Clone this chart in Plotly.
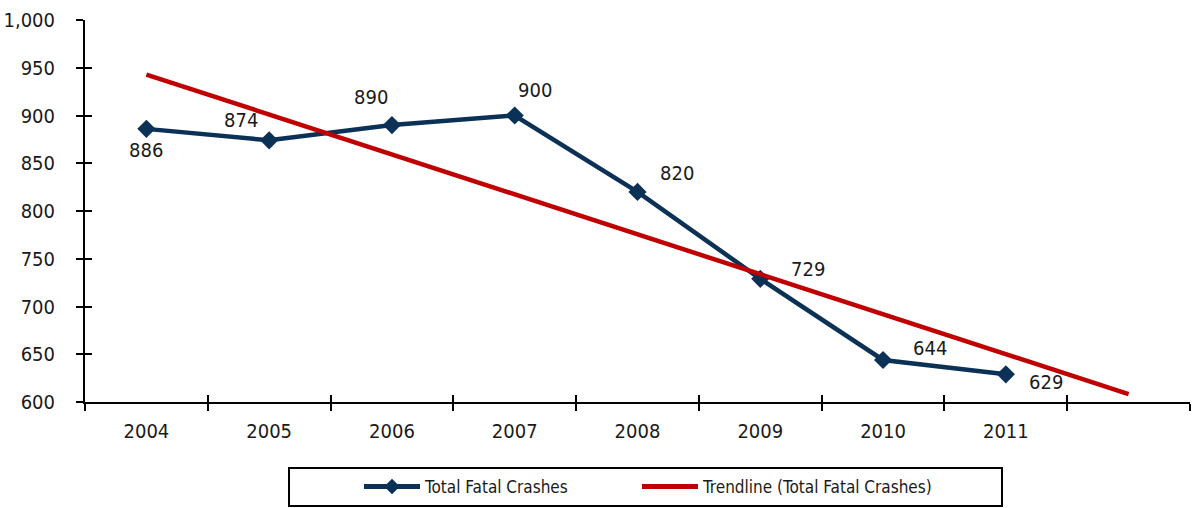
import numpy as np
import plotly.graph_objects as go

years = [2004, 2005, 2006, 2007, 2008, 2009, 2010, 2011]
fatal_crashes = [886, 874, 890, 900, 820, 729, 644, 629]
trend_years = [2004, 2005, 2006, 2007, 2008, 2009, 2010, 2011, 2012]
y_ticks = [600, 650, 700, 750, 800, 850, 900, 950, 1000]

# linear trendline (least squares) forecast one period ahead, like the source chart
coef = np.polyfit(years, fatal_crashes, 1)
trend_vals = list(np.polyval(coef, trend_years))

FONT = "DejaVu Sans Condensed, Liberation Sans Narrow, sans-serif"
NAVY = "#0b3157"
RED = "#c00000"
TXT = "#1a1a1a"

# label offsets in pixels (dx, dy up)
label_offsets = [(0, -21), (-28, 20), (-21, 28), (20, 26), (39, 19), (48, 10), (47, 12), (40, -8)]

fig = go.Figure()
fig.add_trace(go.Scatter(
    x=years, y=fatal_crashes, mode="lines+markers", name="Total Fatal Crashes",
    line=dict(color=NAVY, width=4.5),
    marker=dict(symbol="diamond", size=14, color=NAVY),
    legend="legend",
))
fig.add_trace(go.Scatter(
    x=trend_years, y=trend_vals, mode="lines", name="Trendline (Total Fatal Crashes)",
    line=dict(color=RED, width=4.5),
    legend="legend2",
))
# invisible trace for overlay axes (inner halves of cross ticks)
fig.add_trace(go.Scatter(x=[2004], y=[600], xaxis="x2", yaxis="y2", mode="markers",
                         marker=dict(opacity=0), showlegend=False, hoverinfo="skip"))

for xv, yv, (dx, dy) in zip(years, fatal_crashes, label_offsets):
    fig.add_annotation(x=xv, y=yv, text=str(yv), showarrow=False, xshift=dx, yshift=dy,
                       font=dict(family=FONT, size=20, color=TXT))

boundaries = [y - 0.5 for y in years] + [2011.5, 2012.5]

legend_common = dict(orientation="h", xref="container", yref="container",
                     xanchor="left", yanchor="middle", y=1 - 487 / 508,
                     font=dict(family=FONT, size=17, color=TXT),
                     itemwidth=56, itemsizing="constant",
                     bgcolor="rgba(0,0,0,0)", borderwidth=0)

fig.update_layout(
    width=1197, height=508,
    margin=dict(l=85, r=7, t=20, b=106, autoexpand=False),
    paper_bgcolor="white", plot_bgcolor="white",
    font=dict(family=FONT, color=TXT),
    xaxis=dict(
        range=[2003.5, 2012.5], tickmode="array", tickvals=years, ticktext=[str(y) for y in years],
        ticks="", showline=True, linecolor="black", linewidth=2, showgrid=False, zeroline=False,
        tickfont=dict(size=20, family=FONT, color=TXT), ticklabelstandoff=10, automargin=False,
        minor=dict(tickmode="array", tickvals=boundaries, ticks="outside", ticklen=7,
                   tickwidth=2, tickcolor="black", showgrid=False),
    ),
    yaxis=dict(
        range=[600, 1000], tickmode="array", tickvals=y_ticks, tickformat=",",
        ticks="outside", ticklen=7, tickwidth=2, tickcolor="black",
        showline=True, linecolor="black", linewidth=2, showgrid=False, zeroline=False,
        tickfont=dict(size=20, family=FONT, color=TXT), ticklabelstandoff=17, automargin=False,
    ),
    xaxis2=dict(overlaying="x", range=[2003.5, 2012.5], tickmode="array", tickvals=boundaries,
                ticks="inside", ticklen=7, tickwidth=2, tickcolor="black", showticklabels=False,
                showline=False, showgrid=False, zeroline=False, side="bottom", anchor="y2",
                automargin=False),
    yaxis2=dict(overlaying="y", range=[600, 1000], tickmode="array", tickvals=y_ticks,
                ticks="inside", ticklen=7, tickwidth=2, tickcolor="black", showticklabels=False,
                showline=False, showgrid=False, zeroline=False, side="left", anchor="x2",
                automargin=False),
    showlegend=True,
    legend=dict(x=359 / 1197, **legend_common),
    legend2=dict(x=637 / 1197, **legend_common),
    shapes=[dict(type="rect", xref="paper", yref="paper",
                 x0=(289 - 85) / 1105, x1=(1002 - 85) / 1105,
                 y0=(402 - 506) / 382, y1=(402 - 468) / 382,
                 line=dict(color="black", width=2), fillcolor="rgba(0,0,0,0)")],
)

fig.write_html("out.html", config={"displayModeBar": False},
               post_script="document.body.style.margin='0px';")
